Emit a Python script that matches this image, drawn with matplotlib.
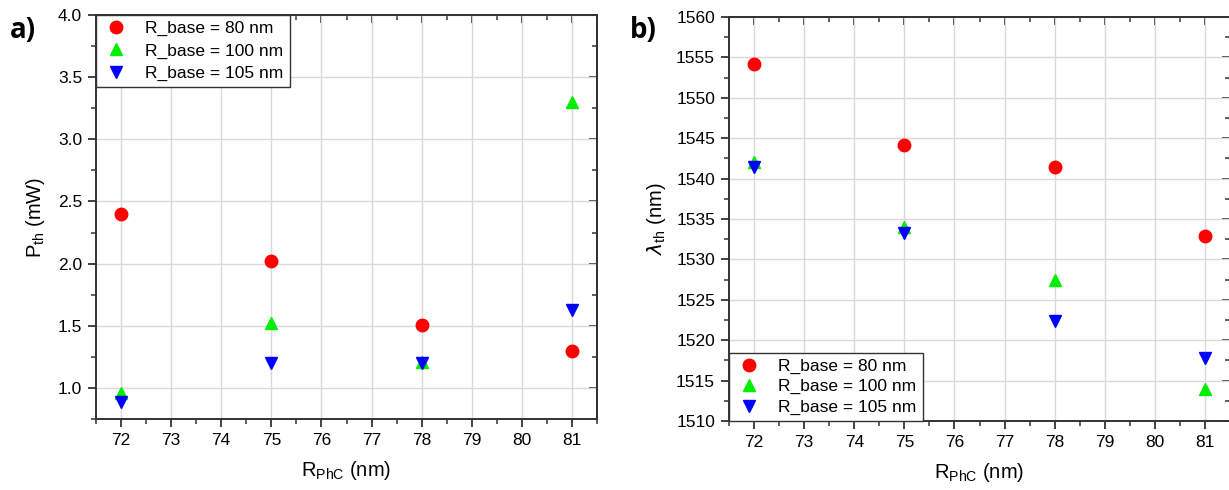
import matplotlib
matplotlib.use("Agg")
import matplotlib.pyplot as plt
from matplotlib.ticker import MultipleLocator

plt.rcParams['font.family'] = ['Liberation Sans', 'DejaVu Sans']

# data
r_phc = [72, 75, 78, 81]
labels = ['R_base = 80 nm', 'R_base = 100 nm', 'R_base = 105 nm']

p_80 = [2.40, 2.02, 1.51, 1.30]
p_100 = [0.96, 1.52, 1.21, 3.30]
p_105 = [0.89, 1.20, 1.20, 1.63]

lam_80 = [1554.2, 1544.2, 1541.4, 1532.9]
lam_100 = [1542.0, 1534.0, 1527.5, 1514.0]
lam_105 = [1541.4, 1533.3, 1522.4, 1517.8]

colors = ['#ff0000', '#00ee00', '#0000ff']
markers = ['o', '^', 'v']


def style_axis(ax, ymaj, ymin):
    ax.xaxis.set_major_locator(MultipleLocator(1))
    ax.xaxis.set_minor_locator(MultipleLocator(0.5))
    ax.yaxis.set_major_locator(MultipleLocator(ymaj))
    ax.yaxis.set_minor_locator(MultipleLocator(ymin))
    ax.grid(True, which='major', color='#d9d9d9', lw=1.0, zorder=0)
    ax.set_axisbelow(True)
    for s in ax.spines.values():
        s.set_color('#333333')
        s.set_linewidth(1.4)
    ax.tick_params(which='major', direction='out', length=6, width=1.3,
                   color='#333333', labelsize=12.5, pad=4)
    ax.tick_params(which='minor', direction='out', length=3.5, width=1.1,
                   color='#333333')
    # inward ticks on top and right
    top = ax.secondary_xaxis('top')
    top.xaxis.set_major_locator(MultipleLocator(1))
    top.xaxis.set_minor_locator(MultipleLocator(0.5))
    top.tick_params(which='major', direction='in', length=6, width=1.3,
                    color='#333333', labeltop=False)
    top.tick_params(which='minor', direction='in', length=3.5, width=1.1,
                    color='#333333')
    right = ax.secondary_yaxis('right')
    right.yaxis.set_major_locator(MultipleLocator(ymaj))
    right.yaxis.set_minor_locator(MultipleLocator(ymin))
    right.tick_params(which='major', direction='in', length=6, width=1.3,
                      color='#333333', labelright=False)
    right.tick_params(which='minor', direction='in', length=3.5, width=1.1,
                      color='#333333')
    for sec in (top, right):
        for s in sec.spines.values():
            s.set_color('#333333')
            s.set_linewidth(1.4)


def add_legend(ax, loc, spacing):
    leg = ax.legend(loc=loc, fontsize=12.5, frameon=True, fancybox=False,
                    borderaxespad=0, handletextpad=0.9, borderpad=0.35,
                    labelspacing=spacing, handlelength=1.6)
    leg.get_frame().set_edgecolor('#333333')
    leg.get_frame().set_linewidth(1.0)
    leg.get_frame().set_alpha(1)


fig = plt.figure(figsize=(12.29, 4.9), dpi=100)

# panel a
ax1 = fig.add_axes([96 / 1229, 71 / 490, 501 / 1229, 404 / 490])
for ys, c, m, lab in zip([p_80, p_100, p_105], colors, markers, labels):
    ax1.plot(r_phc, ys, ls='none', marker=m, color=c, ms=9, mec=c, label=lab, zorder=3)
ax1.set_xlim(71.5, 81.5)
ax1.set_ylim(0.75, 4.0)
style_axis(ax1, 0.5, 0.25)
ax1.set_xlabel('R$_{\\mathregular{PhC}}$ (nm)', fontsize=14.5, labelpad=8)
ax1.set_ylabel('P$_{\\mathregular{th}}$ (mW)', fontsize=14.5, labelpad=8)
add_legend(ax1, 'upper left', 0.4)

# panel b
ax2 = fig.add_axes([729 / 1229, 69 / 490, 501 / 1229, 404 / 490])
for ys, c, m, lab in zip([lam_80, lam_100, lam_105], colors, markers, labels):
    ax2.plot(r_phc, ys, ls='none', marker=m, color=c, ms=9, mec=c, label=lab, zorder=3)
ax2.set_xlim(71.5, 81.5)
ax2.set_ylim(1510, 1560)
style_axis(ax2, 5, 2.5)
ax2.set_xlabel('R$_{\\mathregular{PhC}}$ (nm)', fontsize=14.5, labelpad=8)
ax2.set_ylabel('$\\lambda_{\\mathregular{th}}$ (nm)', fontsize=14.5, labelpad=6)
add_legend(ax2, 'lower left', 0.3)

fig.text(10 / 1229, 1 - 30 / 490, 'a)', fontsize=20, fontweight='bold',
         family=['Open Sans', 'DejaVu Sans'], va='center', ha='left')
fig.text(630 / 1229, 1 - 30 / 490, 'b)', fontsize=20, fontweight='bold',
         family=['Open Sans', 'DejaVu Sans'], va='center', ha='left')

fig.savefig('out.png', dpi=100)
